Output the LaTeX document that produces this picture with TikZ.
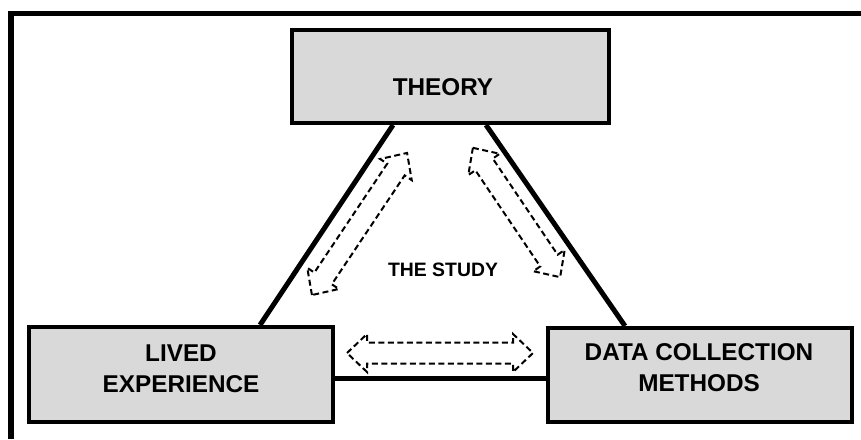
\documentclass[tikz,border=0pt]{standalone}
\usepackage{fontspec}
\setmainfont{Liberation Sans}
\begin{document}
\begin{tikzpicture}[x=1pt,y=1pt,
  box/.style={draw=black, line width=4pt, fill=boxgray, rectangle, inner sep=0pt},
  label/.style={font=\bfseries\fontsize{24.3}{31}\selectfont, align=center, inner sep=0pt},
  link/.style={line width=5pt, line cap=butt},
  hollowarrow/.style={draw=black, line width=2pt, dash pattern=on 6pt off 3.5pt, fill=white, line join=miter}
]
\definecolor{boxgray}{HTML}{D9D9D9}
\useasboundingbox (0,0) rectangle (861,439);

% outer frame (left and top edges)
\draw[line width=5.5pt] (11,0) -- (11,425.5) -- (861,425.5);

% the three corner boxes
\node[box, minimum width=317pt, minimum height=93pt] (theory) at (450.5,362.5) {};
\node[box, minimum width=304pt, minimum height=95pt] (lived) at (181,64.5) {};
\node[box, minimum width=304pt, minimum height=94pt] (data) at (700,64) {};

% triangle sides joining the boxes
\draw[link] ([xshift=103pt]theory.south west) -- ([xshift=233pt]lived.south west |- lived.north);
\draw[link] ([xshift=196pt]theory.south west) -- ([xshift=79pt]data.south west |- data.north);
\draw[link] ([yshift=-3.5pt]lived.east) -- ([yshift=-3pt]data.west);

% box labels
\node[label] (theorytext) at (443,352) {THEORY};
\node[label] (livedtext) at (181,70) {LIVED\\EXPERIENCE};
\node[label] (datatext) at (699,71) {DATA COLLECTION\\METHODS};
\node[label, font=\bfseries\fontsize{19.4}{23}\selectfont] (study) at (443,169) {THE STUDY};

% hollow dashed two-way arrows: centre x, centre y, angle, length
\newcommand{\twowayarrow}[4]{%
  \begin{scope}[shift={(#1,#2)}, rotate=#3]
    \draw[hollowarrow] (-#4/2,0) -- (-#4/2+20,19) -- (-#4/2+20,10.5) -- (#4/2-20,10.5)
      -- (#4/2-20,19) -- (#4/2,0) -- (#4/2-20,-19) -- (#4/2-20,-10.5)
      -- (-#4/2+20,-10.5) -- (-#4/2+20,-19) -- cycle;
  \end{scope}}
\twowayarrow{359.5}{215}{56.2}{171}
\twowayarrow{516.5}{226.5}{-56}{156}
\twowayarrow{440}{86}{0}{186}
\end{tikzpicture}
\end{document}
